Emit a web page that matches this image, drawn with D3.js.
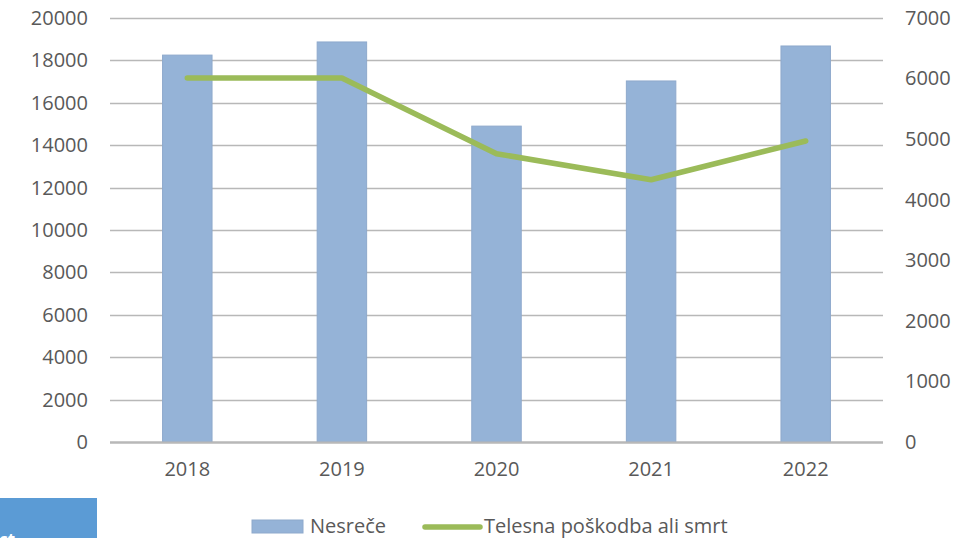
<!DOCTYPE html>
<html>
<head>
<meta charset="utf-8">
<script src="https://cdn.jsdelivr.net/npm/d3@7"></script>
<style>
  body { margin: 0; background: #fff; }
  svg text { font-family: "Open Sans", sans-serif; }
</style>
</head>
<body>
<div id="chart"></div>
<script>
// Data
const years = ['2018', '2019', '2020', '2021', '2022'];
const nesrece = [18250, 18870, 14900, 17030, 18680];
const poskodbe = [6010, 6010, 4760, 4330, 4970];
const leftTicks = [0, 2000, 4000, 6000, 8000, 10000, 12000, 14000, 16000, 18000, 20000];
const rightTicks = [0, 1000, 2000, 3000, 4000, 5000, 6000, 7000];

const CFG = {
  width: 977,
  height: 539,
  plot: { left: 110, right: 883, top: 18, bottom: 442 },
};

function drawChart() {
  const svg = d3.select('#chart')
    .append('svg')
    .attr('width', CFG.width)
    .attr('height', CFG.height);

  const x = d3.scaleBand()
    .domain(years)
    .range([CFG.plot.left, CFG.plot.right])
    .paddingInner(0.68)
    .paddingOuter(0.34);

  const yLeft = d3.scaleLinear().domain([0, 20000]).range([CFG.plot.bottom, CFG.plot.top]);
  const yRight = d3.scaleLinear().domain([0, 7000]).range([CFG.plot.bottom, CFG.plot.top]);

  // gridlines
  svg.append('g')
    .selectAll('line')
    .data(leftTicks)
    .join('line')
    .attr('x1', CFG.plot.left)
    .attr('x2', CFG.plot.right)
    .attr('y1', d => Math.round(yLeft(d)) + 0.5)
    .attr('y2', d => Math.round(yLeft(d)) + 0.5)
    .attr('stroke', '#b8b8b8')
    .attr('stroke-width', d => d === 0 ? 2 : 1.5);

  // left axis
  const axL = svg.append('g')
    .attr('transform', `translate(${CFG.plot.left},0)`)
    .call(d3.axisLeft(yLeft).tickValues(leftTicks).tickSize(0).tickPadding(22).tickFormat(d3.format('d')));
  axL.select('.domain').remove();
  axL.selectAll('text').attr('font-size', 20).attr('fill', '#595959').attr('font-family', '"Open Sans", sans-serif');

  // right axis
  const axR = svg.append('g')
    .attr('transform', `translate(${CFG.plot.right},0)`)
    .call(d3.axisRight(yRight).tickValues(rightTicks).tickSize(0).tickPadding(22).tickFormat(d3.format('d')));
  axR.select('.domain').remove();
  axR.selectAll('text').attr('font-size', 20).attr('fill', '#595959').attr('font-family', '"Open Sans", sans-serif');

  // bars
  svg.append('g')
    .selectAll('rect')
    .data(years)
    .join('rect')
    .attr('x', d => x(d))
    .attr('y', (d, i) => yLeft(nesrece[i]))
    .attr('width', x.bandwidth())
    .attr('height', (d, i) => yLeft(0) - yLeft(nesrece[i]))
    .attr('fill', '#95b3d7')
    .attr('stroke', '#8ea9cc')
    .attr('stroke-width', 1);

  // baseline on top of bars
  svg.append('line')
    .attr('x1', CFG.plot.left).attr('x2', CFG.plot.right)
    .attr('y1', yLeft(0) + 0.5).attr('y2', yLeft(0) + 0.5)
    .attr('stroke', '#b8b8b8').attr('stroke-width', 2);

  // bottom axis
  const axB = svg.append('g')
    .attr('transform', `translate(0,${CFG.plot.bottom})`)
    .call(d3.axisBottom(x).tickSize(0).tickPadding(20));
  axB.select('.domain').remove();
  axB.selectAll('text').attr('font-size', 20).attr('fill', '#595959').attr('font-family', '"Open Sans", sans-serif');

  // line
  const line = d3.line()
    .x((d, i) => x(years[i]) + x.bandwidth() / 2)
    .y(d => yRight(d));

  svg.append('path')
    .datum(poskodbe)
    .attr('d', line)
    .attr('fill', 'none')
    .attr('stroke', '#9bbb59')
    .attr('stroke-width', 5.5)
    .attr('stroke-linecap', 'round')
    .attr('stroke-linejoin', 'round');

  // legend
  const leg = svg.append('g');
  leg.append('rect')
    .attr('x', 252).attr('y', 520).attr('width', 51).attr('height', 13)
    .attr('fill', '#95b3d7').attr('stroke', '#8ea9cc');
  leg.append('text')
    .attr('x', 310).attr('y', 533)
    .attr('font-size', 20).attr('fill', '#595959')
    .text('Nesreče');
  leg.append('line')
    .attr('x1', 425).attr('x2', 480).attr('y1', 527).attr('y2', 527)
    .attr('stroke', '#9bbb59').attr('stroke-width', 5.5).attr('stroke-linecap', 'round');
  leg.append('text')
    .attr('x', 484).attr('y', 533)
    .attr('font-size', 20).attr('fill', '#595959')
    .text('Telesna poškodba ali smrt');

  // partly visible blue box at bottom left
  svg.append('clipPath').attr('id', 'boxclip')
    .append('rect').attr('x', 0).attr('y', 498).attr('width', 97).attr('height', 40);
  svg.append('rect')
    .attr('x', 0).attr('y', 498).attr('width', 97).attr('height', 40)
    .attr('fill', '#5b9bd5');
  svg.append('text')
    .attr('clip-path', 'url(#boxclip)')
    .attr('x', -1).attr('y', 546)
    .attr('font-size', 17).attr('font-weight', 'bold').attr('fill', '#fff')
    .text('ct');
}

drawChart();
</script>
</body>
</html>
